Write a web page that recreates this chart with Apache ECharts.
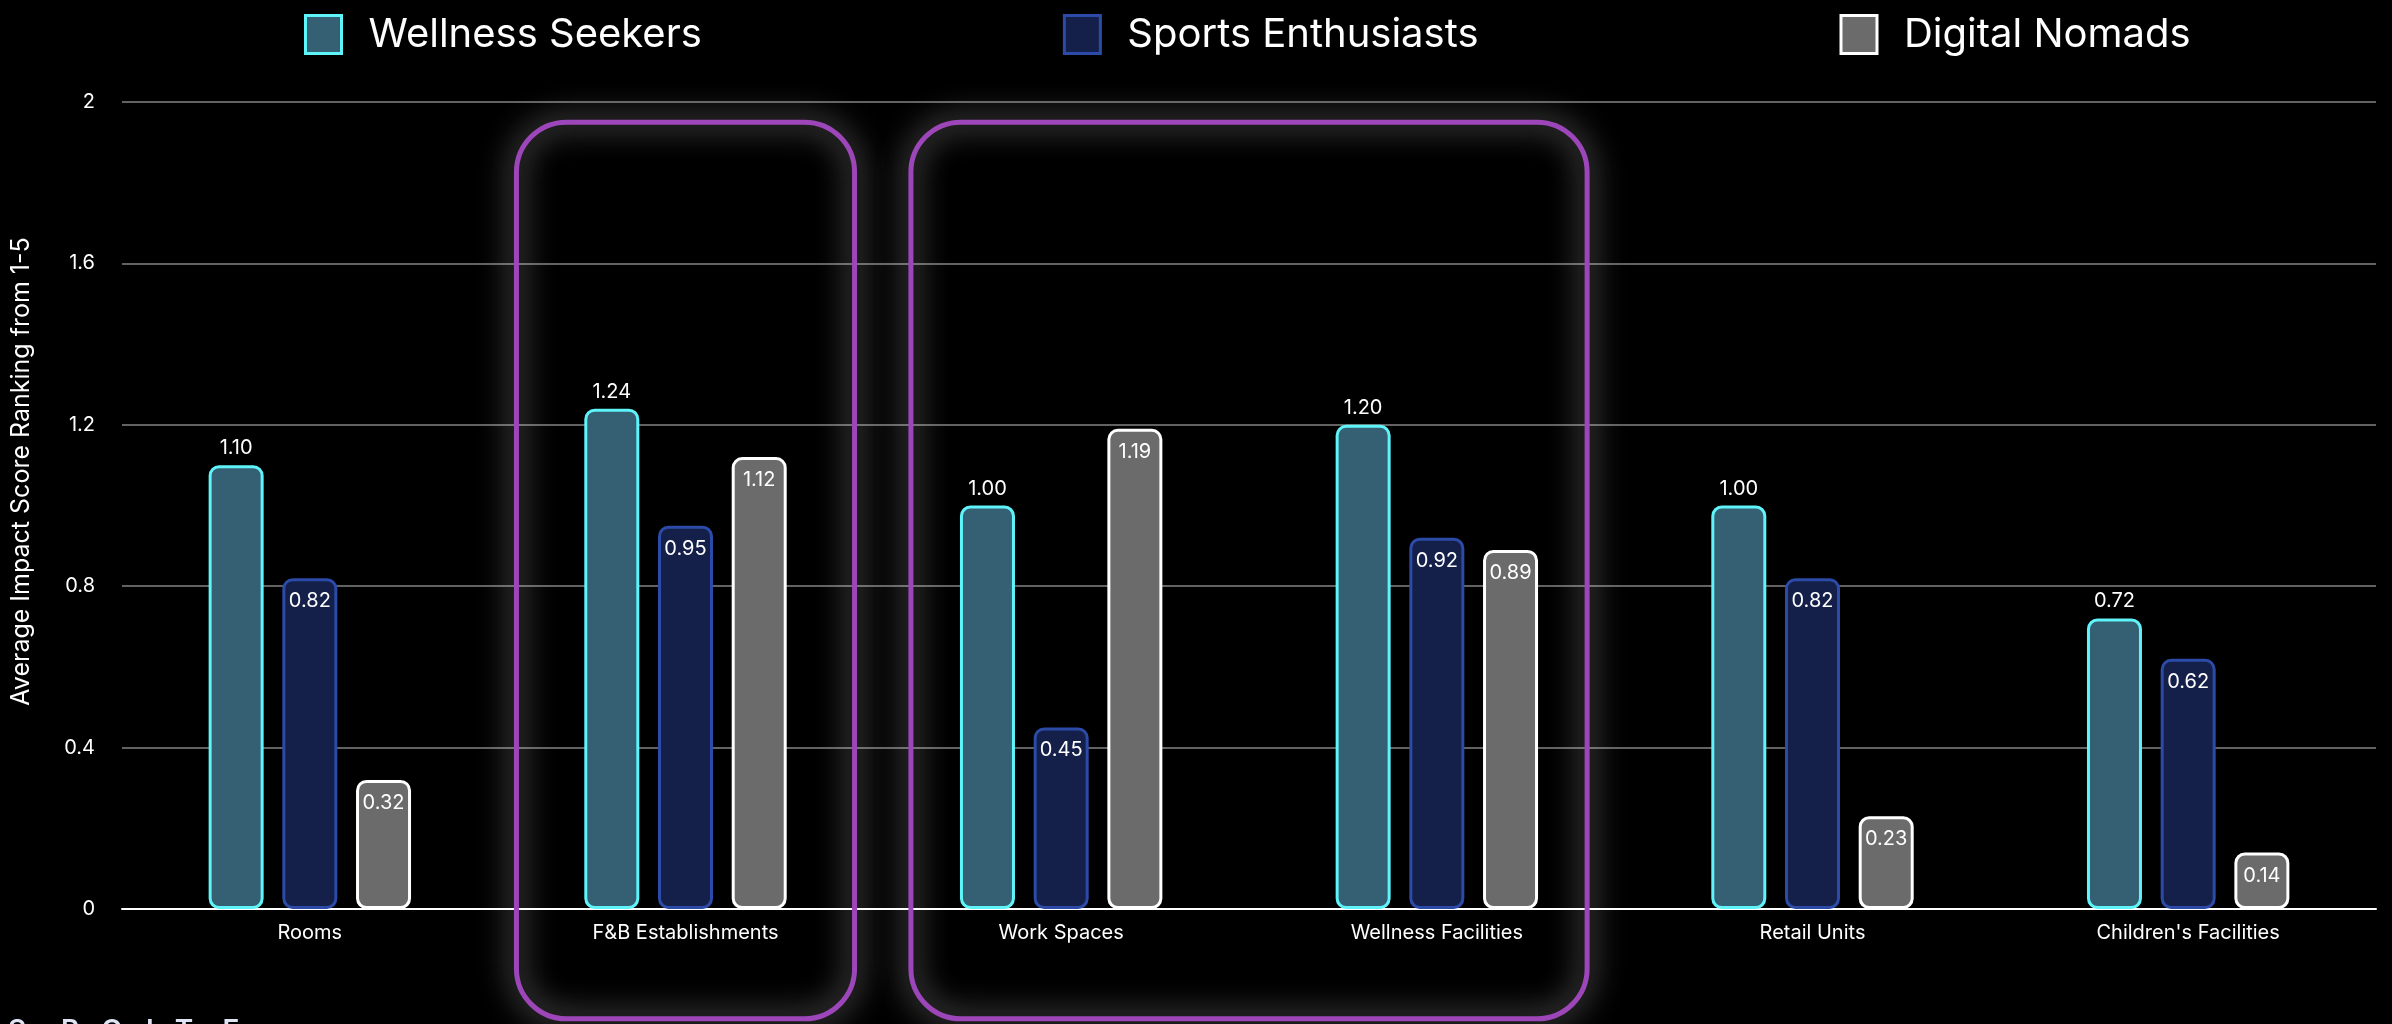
<!DOCTYPE html>
<html>
<head>
<meta charset="utf-8">
<script src="https://cdn.jsdelivr.net/npm/echarts@6/dist/echarts.min.js"></script>
<style>
  html, body { margin: 0; padding: 0; background: #000; }
  #chart { width: 2392px; height: 1024px; }
</style>
</head>
<body>
<div id="chart"></div>
<script>
// Space types rated by each guest segment
const categories = ['Rooms', 'F&B Establishments', 'Work Spaces', 'Wellness Facilities', 'Retail Units', "Children's Facilities"];
const wellnessSeekers = [1.10, 1.24, 1.00, 1.20, 1.00, 0.72];
const sportsEnthusiasts = [0.82, 0.95, 0.45, 0.92, 0.82, 0.62];
const digitalNomads = [0.32, 1.12, 1.19, 0.89, 0.23, 0.14];
const seriesNames = ['Wellness Seekers', 'Sports Enthusiasts', 'Digital Nomads'];
const yTicks = [0, 0.4, 0.8, 1.2, 1.6, 2];
const yAxisTitle = 'Average Impact Score Ranking from 1-5';
// Category groups outlined as highlights: [first index, last index]
const highlightGroups = [[1, 1], [2, 3]];
const brandLetters = ['S', 'P', 'O', 'I', 'T', 'E'];

const FONT = 'Inter, "Noto Sans", sans-serif';

const chart = echarts.init(document.getElementById('chart'), null, { renderer: 'canvas' });

function barSeries(name, data, fill, stroke, labelPos, labelDist) {
  return {
    name: name,
    type: 'bar',
    data: data,
    barWidth: 55,
    barGap: '34%',
    itemStyle: {
      color: fill,
      borderColor: stroke,
      borderWidth: 3,
      borderRadius: 9
    },
    label: {
      show: true,
      position: labelPos,
      distance: labelDist,
      color: '#ffffff',
      fontFamily: FONT,
      fontSize: 20,
      formatter: p => p.value.toFixed(2)
    }
  };
}

chart.setOption({
  animation: false,
  backgroundColor: '#000000',
  legend: {
    left: 299,
    top: 9,
    icon: 'rect',
    itemWidth: 36,
    itemHeight: 38,
    itemGap: 361,
    data: seriesNames,
    itemStyle: { borderWidth: 3 },
    textStyle: {
      color: '#ffffff',
      fontFamily: FONT,
      fontSize: 40,
      padding: [0, 0, 0, 22]
    }
  },
  grid: { left: 122, right: 16, top: 102, bottom: 115, containLabel: false },
  xAxis: {
    type: 'category',
    data: categories,
    axisLine: { show: true, lineStyle: { color: '#ffffff', width: 2 } },
    axisTick: { show: false },
    axisLabel: { color: '#ffffff', fontFamily: FONT, fontSize: 20, margin: 14 }
  },
  yAxis: {
    type: 'value',
    min: yTicks[0],
    max: yTicks[yTicks.length - 1],
    interval: yTicks[1] - yTicks[0],
    name: yAxisTitle,
    nameLocation: 'middle',
    nameGap: 88,
    nameTextStyle: { color: '#ffffff', fontFamily: FONT, fontSize: 25, padding: [0, 0, 0, 68] },
    axisLine: { show: false },
    axisTick: { show: false },
    axisLabel: { color: '#ffffff', fontFamily: FONT, fontSize: 20, margin: 27 },
    splitLine: { show: true, lineStyle: { color: '#626262', width: 2 } }
  },
  series: [
    barSeries(seriesNames[0], wellnessSeekers, '#355f72', '#5ef4fa', 'top', 7),
    barSeries(seriesNames[1], sportsEnthusiasts, '#14204a', '#2c4ba8', 'insideTop', 13),
    barSeries(seriesNames[2], digitalNomads, '#6b6b6b', '#ffffff', 'insideTop', 13)
  ]
});

// Rounded glowing outlines around highlighted category groups, plus the brand mark
function drawOverlays() {
  const x0 = chart.convertToPixel({ xAxisIndex: 0 }, 0);
  const x1 = chart.convertToPixel({ xAxisIndex: 0 }, 1);
  const cw = x1 - x0;
  const yTop = chart.convertToPixel({ yAxisIndex: 0 }, 1.95);
  const yBottom = chart.convertToPixel({ yAxisIndex: 0 }, -0.272);
  const graphics = highlightGroups.map(([a, b]) => {
    const pad = a === b ? 0.45 : 0.40;
    const left = chart.convertToPixel({ xAxisIndex: 0 }, a) - pad * cw;
    const right = chart.convertToPixel({ xAxisIndex: 0 }, b) + pad * cw;
    return {
      type: 'rect',
      z: 1,
      silent: true,
      shape: { x: left, y: yTop, width: right - left, height: yBottom - yTop, r: 50 },
      style: {
        fill: 'none',
        stroke: '#9d46ba',
        lineWidth: 5,
        shadowBlur: 30,
        shadowColor: 'rgba(255,255,255,0.85)'
      }
    };
  });
  // widely tracked wordmark at the lower-left edge
  const letterX = [17, 70, 112, 150, 184, 231];
  brandLetters.forEach((ch, i) => {
    graphics.push({
      type: 'text',
      silent: true,
      x: letterX[i],
      y: 1018,
      style: {
        text: ch,
        fill: '#dfe3f3',
        font: '600 28px ' + FONT,
        align: 'center',
        verticalAlign: 'top'
      }
    });
  });
  chart.setOption({ graphic: graphics });
}
drawOverlays();
</script>
</body>
</html>
